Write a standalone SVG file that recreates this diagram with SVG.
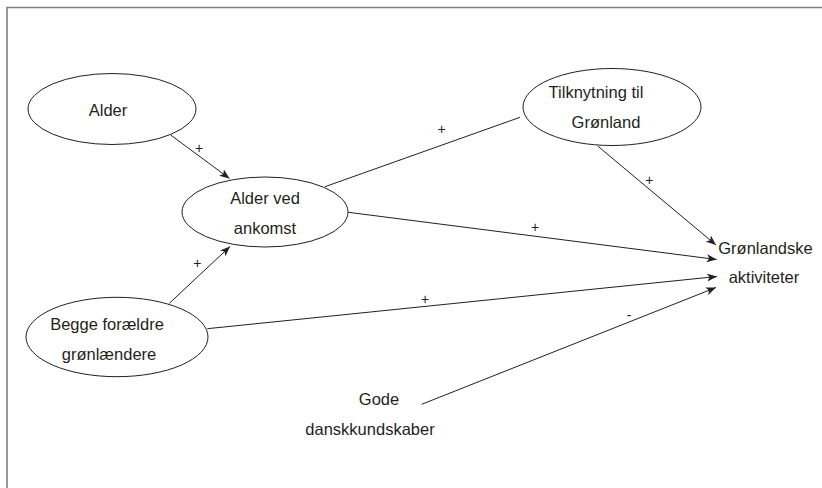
<svg xmlns="http://www.w3.org/2000/svg" width="822" height="488" viewBox="0 0 822 488">
<style>
.node ellipse{fill:#fff;stroke:#231f20;stroke-width:1}
text{font-family:"Liberation Sans",Arial,sans-serif;font-size:16.5px;fill:#231f20;text-anchor:middle;dominant-baseline:central}
.lbl{font-size:14px}
#connectors line{stroke:#231f20;stroke-width:1}
.frame{fill:none;stroke:#808080;stroke-width:1.6}
</style>
<defs>
<marker id="ah" viewBox="0 0 10 8" refX="10" refY="4" markerWidth="10" markerHeight="8" markerUnits="userSpaceOnUse" orient="auto">
<path d="M0,0 L10,4 L0,8 L2.5,4 Z" fill="#231f20"/>
</marker>
</defs>
<rect width="822" height="488" fill="#fff"/>
<path class="frame" d="M7,488 V7.5 H822"/>
<g id="connectors">
<line x1="170.7" y1="135" x2="229.5" y2="178.5" marker-end="url(#ah)"/>
<line x1="169.3" y1="303.3" x2="230" y2="246.5" marker-end="url(#ah)"/>
<line x1="325" y1="186.7" x2="520" y2="117.3"/>
<line x1="348.3" y1="212.3" x2="716.7" y2="259.5" marker-end="url(#ah)"/>
<line x1="597.7" y1="146" x2="716" y2="245" marker-end="url(#ah)"/>
<line x1="207.3" y1="328.7" x2="717" y2="276.5" marker-end="url(#ah)"/>
<line x1="421.7" y1="404.3" x2="716" y2="287.5" marker-end="url(#ah)"/>
<text class="lbl" x="199" y="148">+</text>
<text class="lbl" x="197.3" y="262.7">+</text>
<text class="lbl" x="441.7" y="129.3">+</text>
<text class="lbl" x="535" y="226.7">+</text>
<text class="lbl" x="649.3" y="180">+</text>
<text class="lbl" x="425" y="299.3">+</text>
<text class="lbl" x="629" y="315">-</text>
</g>
<g id="alder" class="node">
<ellipse cx="112" cy="109" rx="84" ry="35.5"/>
<text x="108" y="110">Alder</text>
</g>
<g id="alder-ved-ankomst" class="node">
<ellipse cx="265" cy="212" rx="83" ry="35"/>
<text x="265" y="198">Alder ved</text>
<text x="265" y="228">ankomst</text>
</g>
<g id="tilknytning" class="node">
<ellipse cx="612" cy="107" rx="89" ry="38.5"/>
<text x="596" y="92">Tilknytning til</text>
<text x="606" y="122">Grønland</text>
</g>
<g id="begge" class="node">
<ellipse cx="117" cy="337" rx="91" ry="39.7"/>
<text x="107" y="323.5">Begge forældre</text>
<text x="109" y="353.5">grønlændere</text>
</g>
<g id="gode" class="node">
<text x="379" y="398.5">Gode</text>
<text x="370" y="428.5">danskkundskaber</text>
</g>
<g id="gronlandske" class="node">
<text x="765.5" y="248">Grønlandske</text>
<text x="764" y="277">aktiviteter</text>
</g>
</svg>
